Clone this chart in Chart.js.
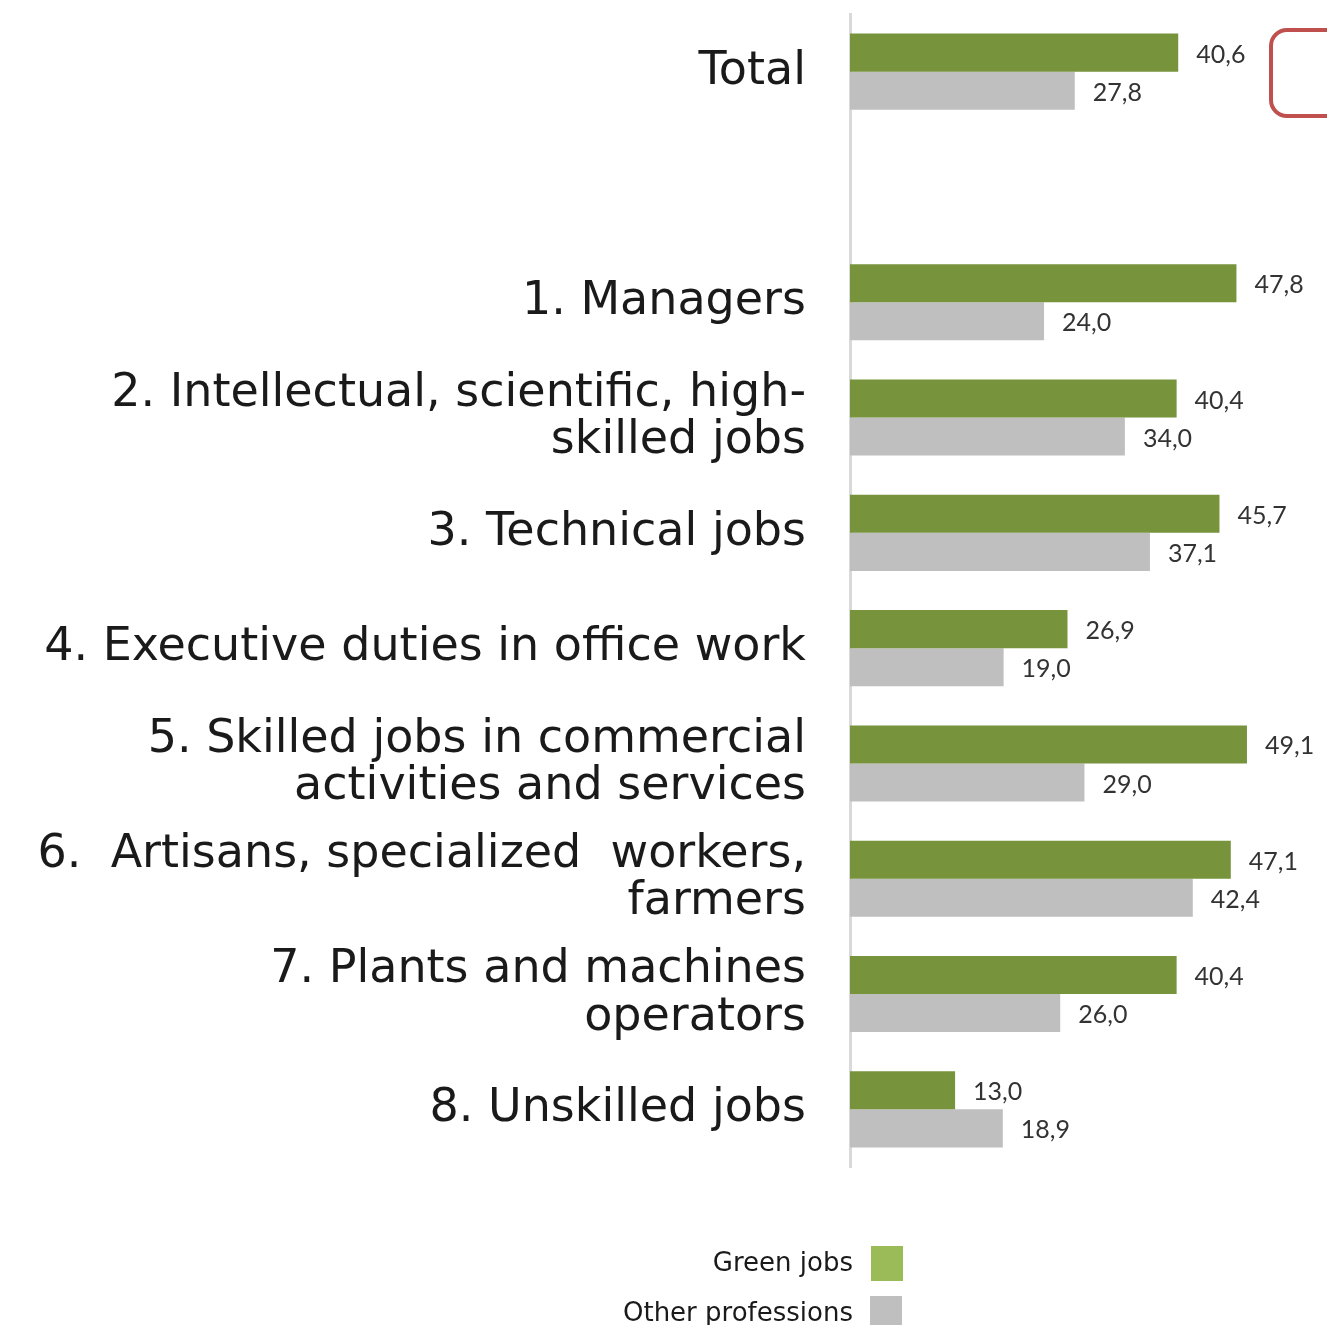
<!DOCTYPE html>
<html>
<head>
<meta charset="utf-8">
<script src="https://cdn.jsdelivr.net/npm/chart.js@4/dist/chart.umd.min.js"></script>
<style>
  html, body { margin: 0; padding: 0; background: #fff; }
  #wrap { width: 1327px; height: 1325px; position: relative; }
</style>
</head>
<body>
<div id="wrap"><canvas id="chart"></canvas></div>
<script>
"use strict";

// categories (empty slot after Total, as in the original)
const categories = [
    "Total",
    "",
    "1. Managers",
    ["2. Intellectual, scientific, high-", "skilled jobs"],
    "3. Technical jobs",
    "4. Executive duties in office work",
    ["5. Skilled jobs in commercial", "activities and services"],
    ["6.  Artisans, specialized  workers,", "farmers"],
    ["7. Plants and machines", "operators"],
    "8. Unskilled jobs"
];
const greenJobs = [40.6, null, 47.8, 40.4, 45.7, 26.9, 49.1, 47.1, 40.4, 13.0];
const otherProfessions = [27.8, null, 24.0, 34.0, 37.1, 19.0, 29.0, 42.4, 26.0, 18.9];
const seriesNames = ["Green jobs", "Other professions"];

const fmt = v => v.toFixed(1).replace(".", ",");

// valori accanto alle barre
const valueLabels = {
    id: "valueLabels",
    afterDatasetsDraw(chart) {
        const ctx = chart.ctx;
        ctx.save();
        ctx.font = "25px Lato";
        ctx.fillStyle = "#333";
        ctx.textAlign = "left";
        ctx.textBaseline = "middle";
        chart.data.datasets.forEach((ds, i) => {
            chart.getDatasetMeta(i).data.forEach((bar, j) => {
                if (ds.data[j] == null) return;
                ctx.fillText(fmt(ds.data[j]), bar.x + 18, bar.y + 2);
            });
        });
        ctx.restore();
    }
};

// legenda in basso + riquadro rosso in alto a destra
const extras = {
    id: "extras",
    afterDraw(chart) {
        const ctx = chart.ctx;
        ctx.save();
        const legendColors = ["#9BBB59", "#BFBFBF"];
        ctx.font = "26px 'DejaVu Sans'";
        ctx.fillStyle = "#1a1a1a";
        ctx.textAlign = "right";
        ctx.textBaseline = "middle";
        seriesNames.forEach((name, i) => {
            const y = 1264 + i * 50;
            ctx.fillText(name, 853, y);
            ctx.fillStyle = legendColors[i];
            ctx.fillRect(871 - i, y - 18, 32, 35);
            ctx.fillStyle = "#1a1a1a";
        });
        ctx.strokeStyle = "#C0504D";
        ctx.lineWidth = 4;
        ctx.beginPath();
        ctx.roundRect(1271, 30, 120, 86, 16);
        ctx.stroke();
        ctx.restore();
    }
};

const ctx = document.getElementById("chart").getContext("2d");
new Chart(ctx, {
    type: "bar",
    data: {
        labels: categories,
        datasets: [
            {
                label: seriesNames[0],
                data: greenJobs,
                backgroundColor: "#77933C",
                categoryPercentage: 0.66,
                barPercentage: 1
            },
            {
                label: seriesNames[1],
                data: otherProfessions,
                backgroundColor: "#BFBFBF",
                categoryPercentage: 0.66,
                barPercentage: 1
            }
        ]
    },
    options: {
        indexAxis: "y",
        responsive: true,
        maintainAspectRatio: false,
        animation: false,
        layout: { padding: { top: 14, bottom: 158, left: 0, right: 0 } },
        plugins: {
            legend: { display: false },
            tooltip: { enabled: false }
        },
        scales: {
            x: {
                display: false,
                min: 0,
                max: 59
            },
            y: {
                grid: { display: false },
                border: { display: true, color: "#D9D9D9", width: 3 },
                afterFit(scale) {
                    scale.width = 850;
                    scale.paddingTop = 0;
                    scale.paddingBottom = 0;
                },
                ticks: {
                    padding: 36,
                    color: "#1a1a1a",
                    font: { family: "'DejaVu Sans'", size: 46, lineHeight: 1.03 }
                }
            }
        }
    },
    plugins: [valueLabels, extras]
});
</script>
</body>
</html>
